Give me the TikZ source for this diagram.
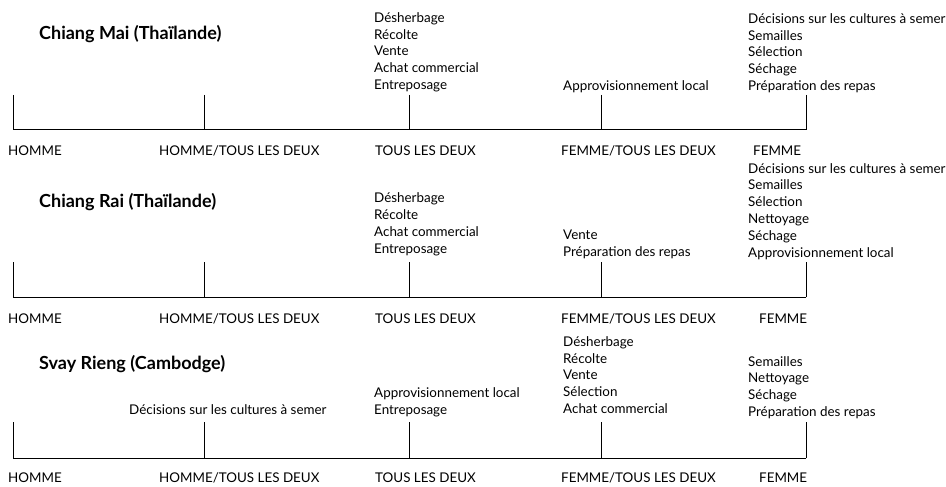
\documentclass[tikz,border=0pt]{standalone}
\usepackage{fontspec}
\setmainfont{Lato}
\newcommand\mylist[4]{%
  \foreach \t [count=\i] in {#4}{%
    \node[lbl, anchor=base west] (#1-\i) at (#2,{#3+16.8*(\i-1)}) {\t};}}
\begin{document}
\begin{tikzpicture}[x=1pt,y=-1pt,
  lbl/.style={inner sep=0pt, font=\fontsize{13.4}{15}\selectfont},
  ttl/.style={inner sep=0pt, anchor=base west, font=\fontsize{18}{20}\selectfont\bfseries},
  axisline/.style={line width=0.9pt, line cap=rect},
  tick/.style={line width=0.9pt}]
\useasboundingbox (0,0) rectangle (946,487);

% ---------- Scale 1 : Chiang Mai ----------
\node[ttl] (t1) at (39,40) {Chiang Mai (Thaïlande)};
\foreach \x [count=\k] in {13,204,409,601,806}{
  \coordinate (a1b\k) at (\x,129.5);
  \coordinate (a1t\k) at (\x,95);
  \draw[tick] (a1t\k) -- (a1b\k);
}
\draw[axisline] (a1b1) -- (a1b5);
\node[lbl, anchor=base west] (h1) at (8,155) {HOMME};
\node[lbl, anchor=base west] (ht1) at (159,155) {HOMME/TOUS LES DEUX};
\node[lbl, anchor=base west] (td1) at (375,155) {TOUS LES DEUX};
\node[lbl, anchor=base west] (ft1) at (561,155) {FEMME/TOUS LES DEUX};
\node[lbl, anchor=base west] (f1) at (753,155) {FEMME};
\mylist{c1t}{374}{22.3}{Désherbage,Récolte,Vente,Achat commercial,Entreposage}
\mylist{c1ft}{563}{91}{Approvisionnement local}
\mylist{c1f}{748}{23.3}{Décisions sur les cultures à semer,Semailles,Sélection,Séchage,Préparation des repas}

% ---------- Scale 2 : Chiang Rai ----------
\node[ttl] (t2) at (39,207.5) {Chiang Rai (Thaïlande)};
\foreach \x [count=\k] in {13,204,409,601,806}{
  \coordinate (a2b\k) at (\x,297);
  \coordinate (a2t\k) at (\x,262);
  \draw[tick] (a2t\k) -- (a2b\k);
}
\draw[axisline] (a2b1) -- (a2b5);
\node[lbl, anchor=base west] (h2) at (8,323) {HOMME};
\node[lbl, anchor=base west] (ht2) at (159,323) {HOMME/TOUS LES DEUX};
\node[lbl, anchor=base west] (td2) at (375,323) {TOUS LES DEUX};
\node[lbl, anchor=base west] (ft2) at (561,323) {FEMME/TOUS LES DEUX};
\node[lbl, anchor=base west] (f2) at (759,323) {FEMME};
\mylist{c2t}{374}{202.6}{Désherbage,Récolte,Achat commercial,Entreposage}
\mylist{c2ft}{563}{239.7}{Vente,Préparation des repas}
\mylist{c2f}{748}{173}{Décisions sur les cultures à semer,Semailles,Sélection,Nettoyage,Séchage,Approvisionnement local}

% ---------- Scale 3 : Svay Rieng ----------
\node[ttl] (t3) at (39,369) {Svay Rieng (Cambodge)};
\foreach \x [count=\k] in {13,204,409,601,806}{
  \coordinate (a3b\k) at (\x,458);
  \coordinate (a3t\k) at (\x,422);
  \draw[tick] (a3t\k) -- (a3b\k);
}
\draw[axisline] (a3b1) -- (a3b5);
\node[lbl, anchor=base west] (h3) at (8,482) {HOMME};
\node[lbl, anchor=base west] (ht3) at (159,482) {HOMME/TOUS LES DEUX};
\node[lbl, anchor=base west] (td3) at (375,482) {TOUS LES DEUX};
\node[lbl, anchor=base west] (ft3) at (561,482) {FEMME/TOUS LES DEUX};
\node[lbl, anchor=base west] (f3) at (759,482) {FEMME};
\mylist{c3ht}{129}{414.5}{Décisions sur les cultures à semer}
\mylist{c3t}{374}{397.7}{Approvisionnement local,Entreposage}
\mylist{c3ft}{563}{346.3}{Désherbage,Récolte,Vente,Sélection,Achat commercial}
\mylist{c3f}{748}{366.1}{Semailles,Nettoyage,Séchage,Préparation des repas}
\end{tikzpicture}
\end{document}
